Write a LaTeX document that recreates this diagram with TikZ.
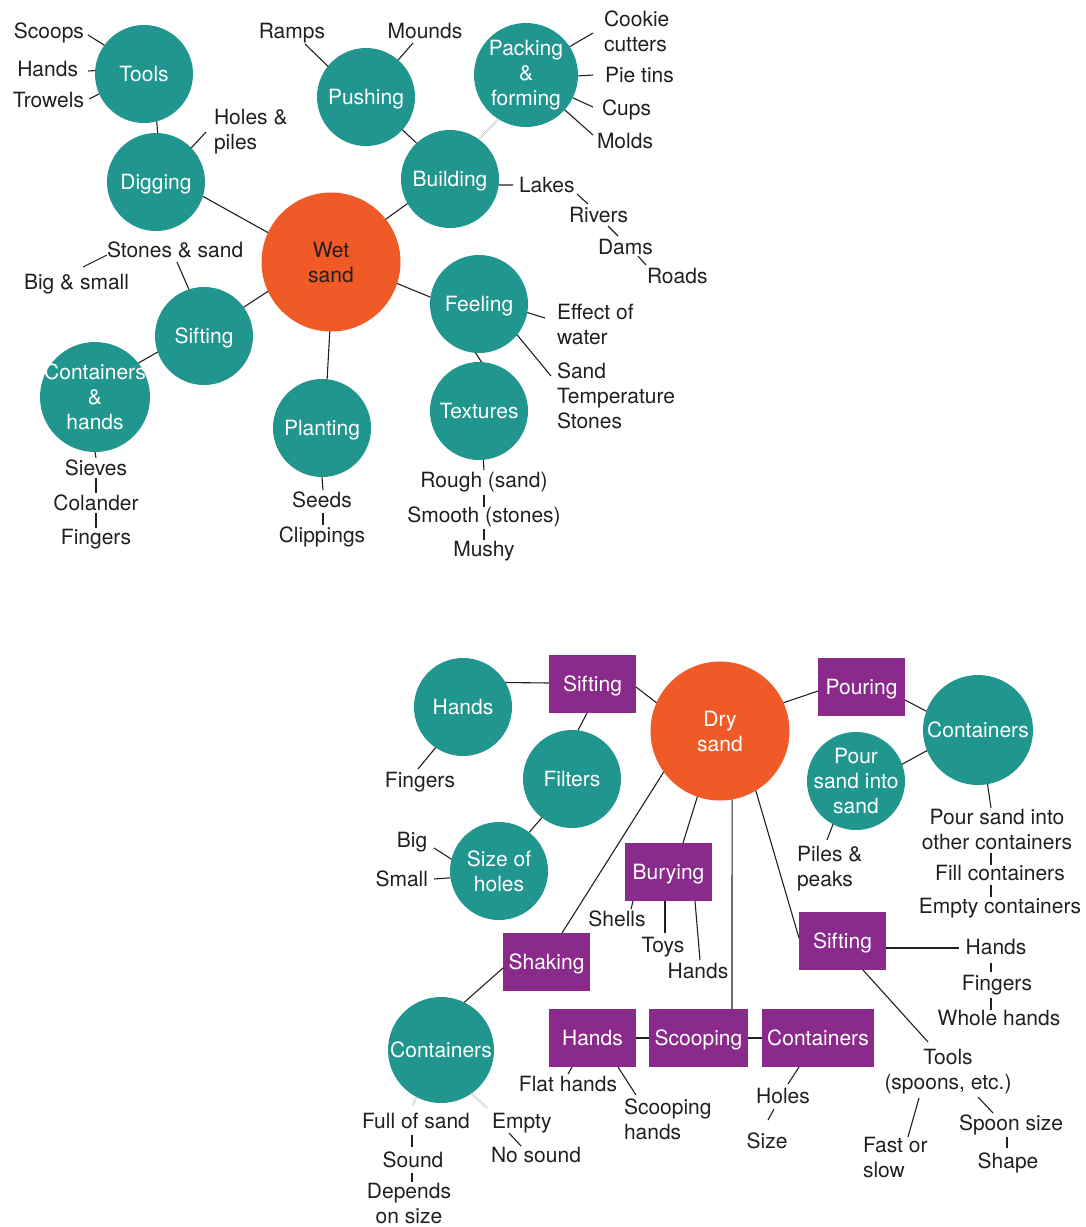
\documentclass[tikz,border=0pt]{standalone}
\usepackage{fontspec}
\setmainfont{TeX Gyre Heros}
\definecolor{tealc}{HTML}{20968F}
\definecolor{orangec}{HTML}{EF5A26}
\definecolor{purplec}{HTML}{8A2A8A}
\definecolor{inkc}{HTML}{231F20}
\begin{document}
\begin{tikzpicture}[x=1pt,y=-1pt,
  every node/.style={font=\fontsize{21}{25}\selectfont, outer sep=0pt},
  lbl/.style={inner sep=0pt, text=inkc},
  one/.style={text height=15pt, text depth=1pt},
  circ/.style={circle, fill=tealc, text=white, inner sep=0pt, minimum size=98pt, align=center},
  wetc/.style={circle, fill=orangec, text=inkc, inner sep=0pt, minimum size=139pt, align=center},
  dryc/.style={circle, fill=orangec, text=white, inner sep=0pt, minimum size=139pt, align=center},
  pbox/.style={rectangle, fill=purplec, text=white, minimum width=87pt, minimum height=58pt, inner xsep=5.5pt, inner ysep=0pt, one},
  ln/.style={draw=inkc, line width=1.1pt},
  gl/.style={draw=black!30, double=white, double distance=0.9pt, line width=0.5pt}
]
\useasboundingbox (0,0) rectangle (1086,1227);

% ---------- Wet sand map ----------
\node[circ, one] (tools) at (144,74) {Tools};
\node[circ, one] (digging) at (156,182) {Digging};
\node[wetc] (wet) at (331,262) {Wet\\sand};
\node[circ, one] (pushing) at (366,97) {Pushing};
\node[circ, minimum size=104pt] (packing) at (526,75) {Packing\\\&\\forming};
\node[circ, one] (building) at (450,179) {Building};
\node[circ, one] (siftA) at (204,336) {Sifting};
\node[circ, minimum size=110pt, inner sep=-8pt] (conth) at (95,397) {Containers\\\&\\hands};
\node[circ, one] (planting) at (322,428) {Planting};
\node[circ, one] (feeling) at (479,304) {Feeling};
\node[circ, one] (textures) at (479,411) {Textures};

\node[lbl, anchor=base east] (scoops) at (84,38) {Scoops};
\node[lbl, anchor=base east] (handsA) at (78,76) {Hands};
\node[lbl, anchor=base east] (trowels) at (84,107) {Trowels};
\node[lbl, anchor=base west, align=left] (holes) at (214,149) {Holes \&\\piles};
\node[lbl, anchor=base] (ramps) at (292,38) {Ramps};
\node[lbl, anchor=base] (mounds) at (425,38) {Mounds};
\node[lbl, anchor=base west, align=left] (cookie) at (604,51) {Cookie\\cutters};
\node[lbl, anchor=base west] (pie) at (605,82) {Pie tins};
\node[lbl, anchor=base west] (cups) at (602,115) {Cups};
\node[lbl, anchor=base west] (molds) at (597,148) {Molds};
\node[lbl, anchor=base west] (lakes) at (519,192) {Lakes};
\node[lbl, anchor=base west] (rivers) at (569,222) {Rivers};
\node[lbl, anchor=base west] (dams) at (598,254) {Dams};
\node[lbl, anchor=base west] (roads) at (647,283) {Roads};
\node[lbl, anchor=base west] (stones) at (107,257) {Stones \& sand};
\node[lbl, anchor=base west] (bigsmall) at (24,289) {Big \& small};
\node[lbl, anchor=base] (sieves) at (96,475) {Sieves};
\node[lbl, anchor=base] (colander) at (96,510) {Colander};
\node[lbl, anchor=base] (fingersA) at (96,544) {Fingers};
\node[lbl, anchor=base] (seeds) at (322,507) {Seeds};
\node[lbl, anchor=base] (clippings) at (322,542) {Clippings};
\node[lbl, anchor=base west, align=left] (effect) at (557,344) {Effect of\\water};
\node[lbl, anchor=base west, align=left] (sandT) at (557,428) {Sand\\Temperature\\Stones};
\node[lbl, anchor=base] (rough) at (484,487) {Rough (sand)};
\node[lbl, anchor=base] (smooth) at (484,522) {Smooth (stones)};
\node[lbl, anchor=base] (mushy) at (484,556) {Mushy};

\draw[ln] (tools.144) -- ([shift={(4,-3)}]scoops.base east);
\draw[ln] (tools.176) -- ([shift={(10,-5)}]handsA.base east);
\draw[ln] (tools.204) -- ([shift={(5,-8)}]trowels.base east);
\draw[ln] (tools.285) -- (digging.88);
\draw[ln] (digging.44) -- ([shift={(-8,-17)}]holes.base west);
\draw[ln] (digging.343) -- (wet.155);
\draw[ln] (pushing.141) -- ([shift={(13,6)}]ramps.base);
\draw[ln] (pushing.49) -- ([shift={(-12,5)}]mounds.base);
\draw[ln] (pushing.318) -- (building.133);
\draw[gl] (building.54) -- (packing.238);
\draw[ln] (packing.33) -- ([shift={(-11,-18)}]cookie.base west);
\draw[ln] (packing.359) -- ([shift={(-12,-7)}]pie.base west);
\draw[ln] (packing.334) -- ([shift={(-9,-8)}]cups.base west);
\draw[ln] (packing.318) -- ([shift={(-4,-13)}]molds.base west);
\draw[ln] (building.353) -- ([shift={(-6,-7)}]lakes.base west);
\draw[ln] ([shift={(58,2)}]lakes.base west) -- ([shift={(19,-18)}]rivers.base west);
\draw[ln] ([shift={(39,4)}]rivers.base west) -- ([shift={(20,-18)}]dams.base west);
\draw[ln] ([shift={(40,2)}]dams.base west) -- ([shift={(-1,-18)}]roads.base west);
\draw[ln] (building.210) -- (wet.38);
\draw[ln] (wet.205) -- (siftA.36);
\draw[ln] (siftA.108) -- ([shift={(70,5)}]stones.base west);
\draw[ln] ([shift={(0,-2)}]stones.base west) -- ([shift={(59,-22)}]bigsmall.base west);
\draw[ln] (siftA.199) -- (conth.38);
\draw[ln] (conth.south) -- ([shift={(0,-17)}]sieves.base);
\draw[ln] ([shift={(0,3)}]sieves.base) -- ([shift={(0,-17)}]colander.base);
\draw[ln] ([shift={(0,3)}]colander.base) -- ([shift={(0,-16)}]fingersA.base);
\draw[ln] (wet.269) -- (planting.84);
\draw[ln] (planting.south) -- ([shift={(1,-17)}]seeds.base);
\draw[ln] ([shift={(1,6)}]seeds.base) -- ([shift={(1,-17)}]clippings.base);
\draw[ln] (wet.342) -- (feeling.172);
\draw[ln] (feeling.266) -- (textures.87);
\draw[ln] (feeling.350) -- ([shift={(-12,-26)}]effect.base west);
\draw[ln] (feeling.321) -- ([shift={(-6,-52)}]sandT.base west);
\draw[ln] (textures.275) -- ([shift={(0,-17)}]rough.base);
\draw[ln] ([shift={(0,8)}]rough.base) -- ([shift={(0,-15)}]smooth.base);
\draw[ln] ([shift={(0,7)}]smooth.base) -- ([shift={(0,-16)}]mushy.base);

% ---------- Dry sand map ----------
\node[dryc] (dry) at (720,731) {Dry\\sand};
\node[pbox] (siftB) at (592.5,684) {Sifting};
\node[circ, one] (handsC) at (463,707) {Hands};
\node[circ, one] (filters) at (572,779) {Filters};
\node[circ] (sizeh) at (499,871) {Size of\\holes};
\node[pbox] (burying) at (668.5,872) {Burying};
\node[pbox] (pouring) at (861.5,687) {Pouring};
\node[circ, one, minimum size=110pt] (contR) at (978,730) {Containers};
\node[circ, inner sep=-8pt] (pourS) at (856,781) {Pour\\sand into\\sand};
\node[pbox] (siftC) at (842.5,941) {Sifting};
\node[pbox] (shaking) at (546.5,962) {Shaking};
\node[circ, one, minimum size=106pt] (contL) at (441,1050) {Containers};
\node[pbox] (handsB) at (592.5,1038) {Hands};
\node[pbox] (scooping) at (698.5,1038) {Scooping};
\node[pbox] (contB) at (818,1038) {Containers};

\node[lbl, anchor=base] (fingersB) at (420,787) {Fingers};
\node[lbl, anchor=base] (big) at (412,847) {Big};
\node[lbl, anchor=base east] (small) at (428,886) {Small};
\node[lbl, anchor=base] (shells) at (617,926) {Shells};
\node[lbl, anchor=base] (toys) at (663,952) {Toys};
\node[lbl, anchor=base] (handsD) at (698,978) {Hands};
\node[lbl, anchor=base west, align=left] (piles) at (797,886) {Piles \&\\peaks};
\node[lbl, anchor=base, align=center] (pourO) at (997,849) {Pour sand into\\other containers};
\node[lbl, anchor=base] (fill) at (1000,880) {Fill containers};
\node[lbl, anchor=base] (empty) at (1000,913) {Empty containers};
\node[lbl, anchor=base] (handsE) at (996,954) {Hands};
\node[lbl, anchor=base] (fingersC) at (997,990) {Fingers};
\node[lbl, anchor=base] (whole) at (999,1025) {Whole hands};
\node[lbl, anchor=base, align=center] (toolsS) at (948,1089) {Tools\\(spoons, etc.)};
\node[lbl, anchor=base west, align=left] (fast) at (863,1177) {Fast or\\slow};
\node[lbl, anchor=base] (spoon) at (1011,1130) {Spoon size};
\node[lbl, anchor=base] (shape) at (1008,1168) {Shape};
\node[lbl, anchor=base] (holesB) at (783,1103) {Holes};
\node[lbl, anchor=base] (size) at (767,1148) {Size};
\node[lbl, anchor=base] (flat) at (568,1091) {Flat hands};
\node[lbl, anchor=base west, align=left] (scoopH) at (624,1139) {Scooping\\hands};
\node[lbl, anchor=base] (full) at (416,1128) {Full of sand};
\node[lbl, anchor=base west] (emptyS) at (492,1128) {Empty};
\node[lbl, anchor=base] (sound) at (413,1167) {Sound};
\node[lbl, anchor=base, align=center] (depends) at (409,1223) {Depends\\on size};
\node[lbl, anchor=base] (nosound) at (536,1162) {No sound};

\draw[ln] (dry.156) -- ([shift={(0,3)}]siftB.east);
\draw[ln] (handsC.30) -- ([shift={(0,-1)}]siftB.west);
\draw[ln] ([shift={(-5.5,0)}]siftB.south) -- (filters.83);
\draw[ln] (handsC.236) -- ([shift={(-2,-18)}]fingersB.base);
\draw[ln] (filters.232) -- (sizeh.52);
\draw[ln] (sizeh.166) -- ([shift={(22,1)}]big.base);
\draw[ln] (sizeh.188) -- ([shift={(6,-7)}]small.base east);
\draw[ln] (dry.216) -- ([shift={(15.5,0)}]shaking.north);
\draw[ln] (dry.251) -- ([shift={(14.5,0)}]burying.north);
\draw[ln] ([shift={(-35.5,0)}]burying.south) -- ([shift={(14,-17)}]shells.base);
\draw[ln] ([shift={(-3.5,0)}]burying.south) -- ([shift={(2,-19)}]toys.base);
\draw[ln] ([shift={(26.5,0)}]burying.south) -- ([shift={(2,-18)}]handsD.base);
\draw[ln] (dry.280) -- ([shift={(33.5,0)}]scooping.north);
\draw[ln] (dry.301) -- ([shift={(0,-3)}]siftC.west);
\draw[ln] (dry.24) -- ([shift={(0,4)}]pouring.west);
\draw[ln] ([shift={(0,13)}]pouring.east) -- (contR.160);
\draw[ln] (contR.202) -- (pourS.20);
\draw[ln] (pourS.242) -- ([shift={(30,-46)}]piles.base west);
\draw[ln] (contR.280) -- ([shift={(-6,-41)}]pourO.base);
\draw[ln] ([shift={(-6,4)}]pourO.base) -- ([shift={(-9,-15)}]fill.base);
\draw[ln] ([shift={(-9,5)}]fill.base) -- ([shift={(-9,-16)}]empty.base);
\draw[ln] ([shift={(0,7)}]siftC.east) -- ([shift={(-37,-6)}]handsE.base);
\draw[ln] ([shift={(-5,9)}]handsE.base) -- ([shift={(-6,-18)}]fingersC.base);
\draw[ln] ([shift={(-6,8)}]fingersC.base) -- ([shift={(-8,-15)}]whole.base);
\draw[ln] ([shift={(20.5,0)}]siftC.south) -- ([shift={(-20,-47)}]toolsS.base);
\draw[ln] ([shift={(-29,9)}]toolsS.base) -- ([shift={(45,-40)}]fast.base west);
\draw[ln] ([shift={(30,8)}]toolsS.base) -- ([shift={(-18,-17)}]spoon.base);
\draw[ln] ([shift={(-4,7)}]spoon.base) -- ([shift={(-1,-20)}]shape.base);
\draw[ln] (handsB.east) -- (scooping.west);
\draw[ln] (scooping.east) -- (contB.west);
\draw[ln] ([shift={(-19,0)}]contB.south) -- ([shift={(5,-19)}]holesB.base);
\draw[ln] ([shift={(-9,6)}]holesB.base) -- ([shift={(1,-28)}]size.base);
\draw[ln] ([shift={(-20.5,0)}]handsB.south) -- ([shift={(0,-17)}]flat.base);
\draw[ln] ([shift={(25.5,0)}]handsB.south) -- ([shift={(12,-44)}]scoopH.base west);
\draw[ln] ([shift={(0,6)}]shaking.west) -- (contL.64);
\draw[gl] (contL.242) -- ([shift={(-3,-23)}]full.base);
\draw[gl] (contL.305) -- ([shift={(-5,-20)}]emptyS.base west);
\draw[ln] ([shift={(-4,7)}]full.base) -- ([shift={(-1,-20)}]sound.base);
\draw[ln] ([shift={(-1,6)}]sound.base) -- ([shift={(3,-41)}]depends.base);
\draw[ln] ([shift={(17,5)}]emptyS.base west) -- ([shift={(-15,-16)}]nosound.base);
\end{tikzpicture}
\end{document}
